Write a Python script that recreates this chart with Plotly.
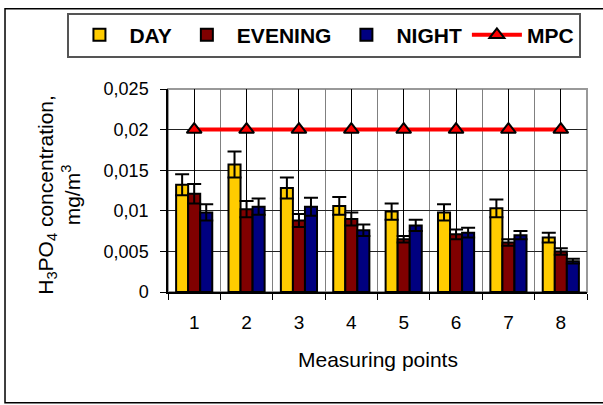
import plotly.graph_objects as go

points = ["1", "2", "3", "4", "5", "6", "7", "8"]
day = [0.0132, 0.0157, 0.0128, 0.0106, 0.0099, 0.0098, 0.0103, 0.0067]
day_err = [0.0013, 0.0016, 0.0013, 0.0011, 0.0010, 0.0010, 0.0011, 0.0006]
evening = [0.0121, 0.0102, 0.0088, 0.0090, 0.0065, 0.0071, 0.0061, 0.0050]
evening_err = [0.0012, 0.0010, 0.0008, 0.0008, 0.0004, 0.0006, 0.0004, 0.0004]
night = [0.0098, 0.0105, 0.0105, 0.0076, 0.0082, 0.0073, 0.0070, 0.0038]
night_err = [0.0010, 0.0010, 0.0011, 0.0007, 0.0007, 0.0006, 0.0005, 0.0003]
mpc = [0.02, 0.02, 0.02, 0.02, 0.02, 0.02, 0.02, 0.02]
y_ticks = [0, 0.005, 0.01, 0.015, 0.02, 0.025]

FONT = "Arial, Liberation Sans, Helvetica, sans-serif"

fig = go.Figure()

def bar(name, vals, errs, color):
    fig.add_trace(go.Bar(
        x=points, y=vals, name=name,
        marker=dict(color=color, line=dict(color="black", width=2)),
        error_y=dict(type="data", array=errs, visible=True, color="black",
                     thickness=2, width=7),
    ))

bar("DAY", day, day_err, "#FFCC00")
bar("EVENING", evening, evening_err, "#800000")
bar("NIGHT", night, night_err, "#000080")

fig.add_trace(go.Scatter(
    x=points, y=mpc, name="MPC", mode="lines+markers",
    xaxis="x2", yaxis="y",
    line=dict(color="#FF0000", width=4),
    marker=dict(symbol="triangle-up", size=13, color="#FF0000",
                line=dict(color="black", width=2)),
))

fig.update_layout(
    width=603, height=405,
    margin=dict(l=168, r=16, t=87, b=113),
    paper_bgcolor="white", plot_bgcolor="white",
    separators=", ",
    barmode="group", bargap=0.31, bargroupgap=0,
    font=dict(family=FONT, size=18, color="black"),
    showlegend=True,
    legend=dict(
        orientation="h", x=-0.24, y=1.376, xanchor="left", yanchor="top",
        bgcolor="white", bordercolor="#555555", borderwidth=2,
        font=dict(family=FONT, size=21, color="black", weight="bold"),
        itemwidth=50, traceorder="normal",
    ),
    xaxis=dict(
        type="category", range=[-0.5, 7.5], tickson="boundaries",
        showgrid=True, gridcolor="#808080", gridwidth=1,
        showline=True, linecolor="black", linewidth=1.5,
        ticks="outside", ticklen=6, tickcolor="black", tickwidth=1,
        tickfont=dict(size=19), ticklabelstandoff=12, fixedrange=True,
    ),
    xaxis2=dict(
        type="category", range=[-0.5, 7.5], overlaying="x",
        showgrid=True, gridcolor="#000000", gridwidth=1,
        showticklabels=False, ticks="", showline=False, fixedrange=True,
    ),
    yaxis=dict(
        range=[0, 0.025], tickvals=y_ticks,
        showgrid=True, gridcolor="#222222", gridwidth=1,
        showline=True, linecolor="black", linewidth=1.5,
        ticks="outside", ticklen=6, tickcolor="black", tickwidth=1,
        tickfont=dict(size=18), ticklabelstandoff=8,
        zeroline=False, fixedrange=True,
    ),
    shapes=[
        dict(type="rect", xref="paper", yref="paper", x0=0, x1=1, y0=0, y1=1,
             line=dict(color="#999999", width=2), layer="below"),
        dict(type="path", xref="paper", yref="paper",
             path="M 1.2,-0.546 L -0.389,-0.546 L -0.389,1.395 L 1.2,1.395",
             line=dict(color="black", width=1.5), layer="below"),
    ],
    annotations=[
        dict(text="H<sub>3</sub>PO<sub>4</sub> concentration,<br>mg/m<sup>3</sup>",
             xref="paper", yref="paper", x=-0.262, y=0.48, textangle=-90,
             showarrow=False, font=dict(size=21), xanchor="center", yanchor="middle"),
        dict(text="Measuring points", xref="paper", yref="paper", x=0.5, y=-0.332,
             showarrow=False, font=dict(size=21), xanchor="center", yanchor="middle"),
    ],
)

fig.write_html("out.html", config={"displayModeBar": False},
               post_script="document.body.style.margin='0';"
                           "document.body.style.overflow='hidden';"
                           "document.documentElement.style.overflow='hidden';")
